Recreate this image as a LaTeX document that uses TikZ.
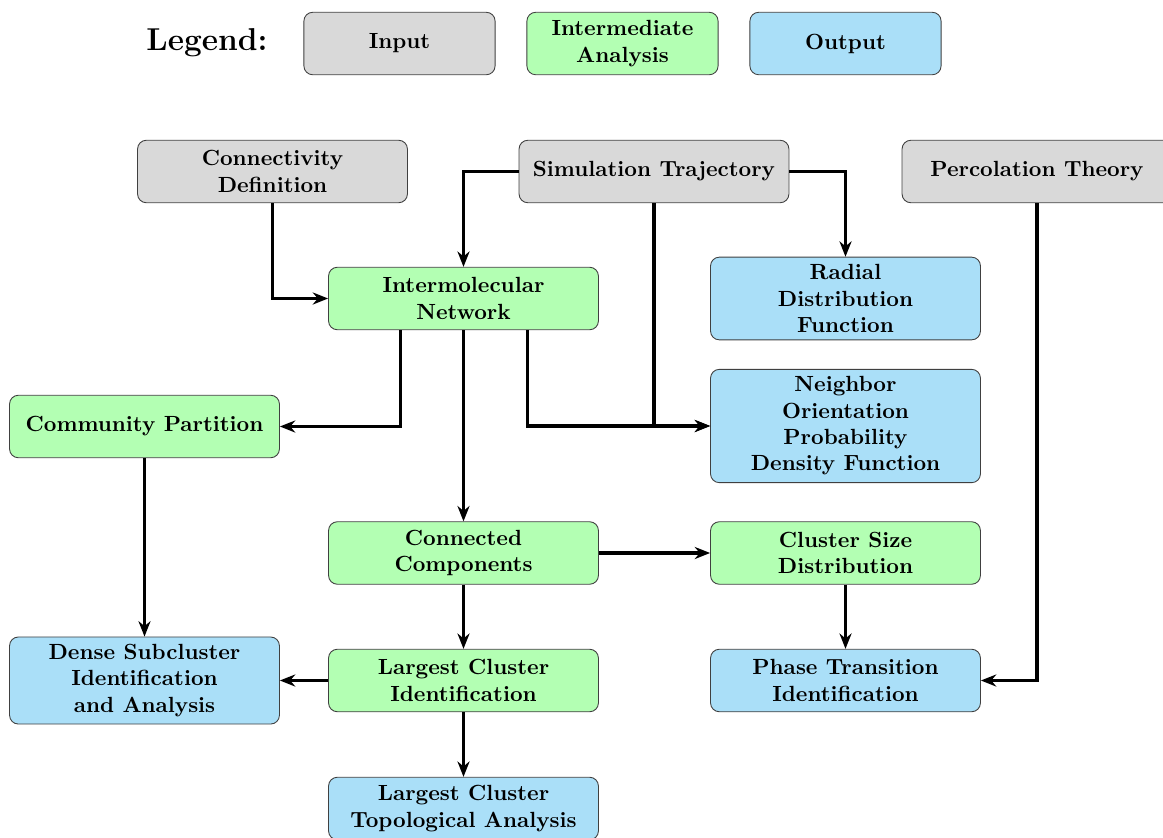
\documentclass[tikz,border=0pt]{standalone}
\usetikzlibrary{positioning}
\usetikzlibrary{calc}
\usetikzlibrary{arrows.meta}
\definecolor{ingray}{HTML}{D9D9D9}
\definecolor{midgreen}{HTML}{B3FFB3}
\definecolor{outblue}{HTML}{AADFF8}
\tikzset{>={Stealth[length=7pt,width=5.5pt]}}
\tikzset{box/.style={draw=black!75, rounded corners=4pt, minimum width=4.32cm, minimum height=1.0cm, align=center, font=\bfseries}}
\tikzset{inbox/.style={box, fill=ingray}}
\tikzset{midbox/.style={box, fill=midgreen}}
\tikzset{outbox/.style={box, fill=outblue}}
\tikzset{legbox/.style={minimum width=3.06cm}}
\tikzset{flow/.style={->, line width=1.4pt}}

\begin{document}
\begin{tikzpicture}[x=0.016cm, y=-0.016cm]
        \useasboundingbox (0,0) rectangle (1163,837);

        % legend
        \node[font=\Large\bfseries] (leg) at (207,43) {Legend:};
        \node[inbox, legbox] (legin) at (399.5,43.5) {Input};
        \node[midbox, legbox] (legmid) at (622.5,43.5) {Intermediate\\Analysis};
        \node[outbox, legbox] (legout) at (845.5,43.5) {Output};

        % inputs
        \node[inbox] (condef) at (272.5,171.5) {Connectivity\\Definition};
        \node[inbox] (simtraj) at (654,171.5) {Simulation Trajectory};
        \node[inbox] (perc) at (1037,171.5) {Percolation Theory};

        % analysis
        \node[midbox] (net) at (463.5,298.5) {Intermolecular\\Network};
        \node[midbox] (comm) at (144.5,426.5) {Community Partition};
        \node[midbox] (concomp) at (463.5,553) {Connected\\Components};
        \node[midbox] (csd) at (845.5,553) {Cluster Size\\Distribution};
        \node[midbox] (lcid) at (463.5,680.5) {Largest Cluster\\Identification};

        % outputs
        \node[outbox] (rdf) at (845.5,298.5) {Radial\\Distribution\\Function};
        \node[outbox] (nopdf) at (845.5,426) {Neighbor\\Orientation\\Probability\\Density Function};
        \node[outbox] (dense) at (144.5,680.5) {Dense Subcluster\\Identification\\and Analysis};
        \node[outbox] (phase) at (845.5,680.5) {Phase Transition\\Identification};
        \node[outbox] (topo) at (463.5,808.5) {Largest Cluster\\Topological Analysis};

        \draw[flow] (condef.south) |- (net.west);
        \draw[flow] (simtraj.west) -| (net.north);
        \draw[flow] (simtraj.east) -| (rdf.north);
        \draw[flow] (simtraj.south) |- (nopdf.west);
        \draw[flow] ($(net.south)+(64,0)$) |- (nopdf.west);
        \draw[flow] ($(net.south)+(-63,0)$) |- (comm.east);
        \draw[flow] (net.south) -- (concomp.north);
        \draw[flow] (perc.south) |- (phase.east);

        \draw[flow] (comm.south) -- (dense.north);
        \draw[flow] (concomp.east) -- (csd.west);
        \draw[flow] (concomp.south) -- (lcid.north);
        \draw[flow] (csd.south) -- (phase.north);
        \draw[flow] (lcid.west) -- (dense.east);
        \draw[flow] (lcid.south) -- (topo.north);
    \end{tikzpicture}
\end{document}
